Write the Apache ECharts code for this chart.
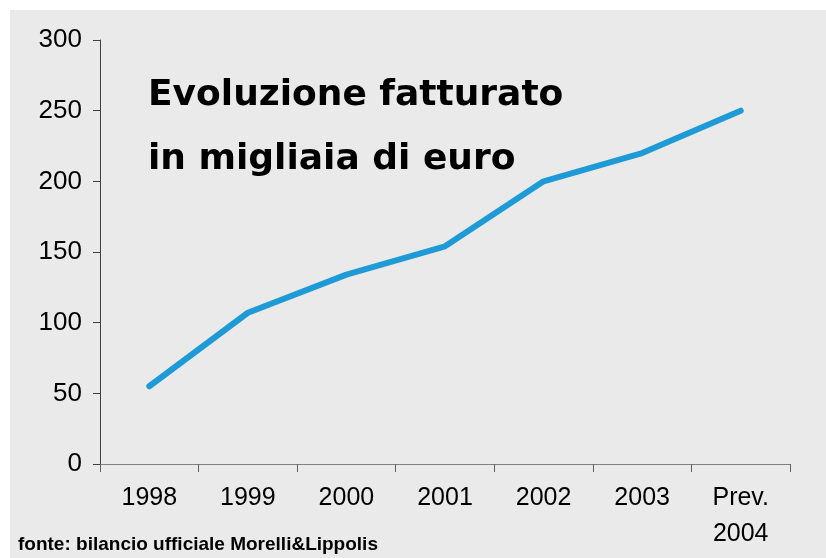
<!DOCTYPE html>
<html>
<head>
<meta charset="utf-8">
<script src="https://cdn.jsdelivr.net/npm/echarts@6/dist/echarts.min.js"></script>
<style>
html,body{margin:0;padding:0;background:#ffffff;}
#chart{width:826px;height:558px;}
</style>
</head>
<body>
<div id="chart"></div>
<script>
const categories = ['1998', '1999', '2000', '2001', '2002', '2003', 'Prev.\n2004'];
const fatturato = [55, 107, 134, 154, 200, 220, 250];
const yTicks = { min: 0, max: 300, interval: 50 };
const titleLines = ['Evoluzione fatturato', 'in migliaia di euro'];
const sourceNote = 'fonte: bilancio ufficiale Morelli&Lippolis';

const chart = echarts.init(document.getElementById('chart'), null, { renderer: 'canvas' });
chart.setOption({
  backgroundColor: '#ffffff',
  animation: false,
  grid: { left: 100, right: 36, top: 40, bottom: 94, containLabel: false },
  graphic: [
    { type: 'rect', z: -10, shape: { x: 10, y: 10, width: 816, height: 548 }, style: { fill: '#eaeaea' } },
    { type: 'text', left: 148, top: 78, style: { text: titleLines[0], font: 'bold 36px "DejaVu Sans"', fill: '#000000' } },
    { type: 'text', left: 148, top: 142, style: { text: titleLines[1], font: 'bold 36px "DejaVu Sans"', fill: '#000000' } },
    { type: 'text', left: 18, top: 535, style: { text: sourceNote, font: 'bold 19px "Liberation Sans"', fill: '#000000' } }
  ],
  xAxis: {
    type: 'category',
    data: categories,
    boundaryGap: true,
    axisLine: { show: true, lineStyle: { color: '#808080', width: 1 } },
    axisTick: { show: true, length: 8, lineStyle: { color: '#606060' } },
    axisLabel: { color: '#000000', fontFamily: '"Liberation Sans", Arial, sans-serif', fontSize: 25, lineHeight: 36, margin: 16, interval: 0 },
    splitLine: { show: false }
  },
  yAxis: {
    type: 'value',
    min: yTicks.min, max: yTicks.max, interval: yTicks.interval,
    axisLine: { show: true, lineStyle: { color: '#404040', width: 1 } },
    axisTick: { show: true, length: 7, lineStyle: { color: '#404040' } },
    axisLabel: { color: '#000000', fontFamily: '"Liberation Sans", Arial, sans-serif', fontSize: 26, margin: 18 },
    splitLine: { show: false }
  },
  series: [{
    type: 'line',
    data: fatturato,
    symbol: 'none',
    lineStyle: { color: '#1e9bd6', width: 6, cap: 'round', join: 'round' },
    z: 5
  }]
});
</script>
</body>
</html>
